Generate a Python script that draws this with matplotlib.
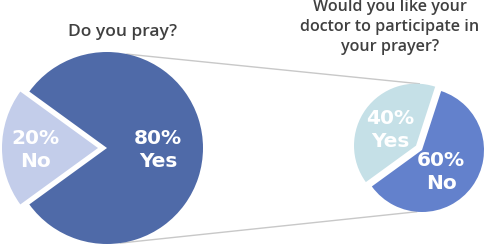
import numpy as np
import matplotlib
matplotlib.use("Agg")
import matplotlib.pyplot as plt

# Data
pray_labels = ["No", "Yes"]
pray_values = [20, 80]
pray_colors = ["#c3cdea", "#4f6aa8"]

doctor_labels = ["Yes", "No"]
doctor_values = [40, 60]
doctor_colors = ["#c5e0e7", "#6381cc"]

title_left = "Do you pray?"
title_right = "Would you like your\ndoctor to participate in\nyour prayer?"

W, H = 484, 245
fig = plt.figure(figsize=(W / 100, H / 100), dpi=100)
ax = fig.add_axes([0, 0, 1, 1])

# Left pie
c1, r1 = (107, 97), 96
ax.pie(pray_values, colors=pray_colors, startangle=144, counterclock=True,
       radius=r1, center=c1, explode=[9, 0], frame=True,
       wedgeprops=dict(linewidth=0))
# Right pie
c2, r2 = (422, 95), 62
ax.pie(doctor_values, colors=doctor_colors, startangle=72, counterclock=True,
       radius=r2, center=c2, explode=[7.4, 0], frame=True,
       wedgeprops=dict(linewidth=0))
ax.set_xlim(0, W)
ax.set_ylim(0, H)
ax.set_aspect("equal")
ax.axis("off")

# connector lines
def pt(c, r, ang):
    a = np.deg2rad(ang)
    return c[0] + r * np.cos(a), c[1] + r * np.sin(a)

lc = "#c8c8c8"
c2y = (c2[0] + 7.4 * np.cos(np.deg2rad(144)), c2[1] + 7.4 * np.sin(np.deg2rad(144)))
p1, p2 = pt(c1, r1, 78), pt(c2y, r2, 87)
ax.plot([p1[0], p2[0]], [p1[1], p2[1]], color=lc, lw=1.0, zorder=0)
p3, p4 = pt(c1, r1, -82), pt(c2, r2, -95)
ax.plot([p3[0], p4[0]], [p3[1], p4[1]], color=lc, lw=1.0, zorder=0)

lab_font = dict(family="DejaVu Sans", fontweight="bold",
                color="white", ha="center", va="center", fontsize=14.5,
                linespacing=1.3)
ax.text(35, 95, f"{pray_values[0]}%\n{pray_labels[0]}", **lab_font)
ax.text(158, 95, f"{pray_values[1]}%\n{pray_labels[1]}", **lab_font)
ax.text(390, 115, f"{doctor_values[0]}%\n{doctor_labels[0]}", **lab_font)
ax.text(441, 73, f"{doctor_values[1]}%\n{doctor_labels[1]}", **lab_font)

tfont = dict(family="Open Sans", fontweight="semibold", color="#404040",
             ha="center", va="center")
ax.text(123, 213, title_left, fontsize=12.5, **tfont)
ax.text(390, 218, title_right, fontsize=11.6, linespacing=1.33, **tfont)

fig.savefig("out.png", dpi=100)
